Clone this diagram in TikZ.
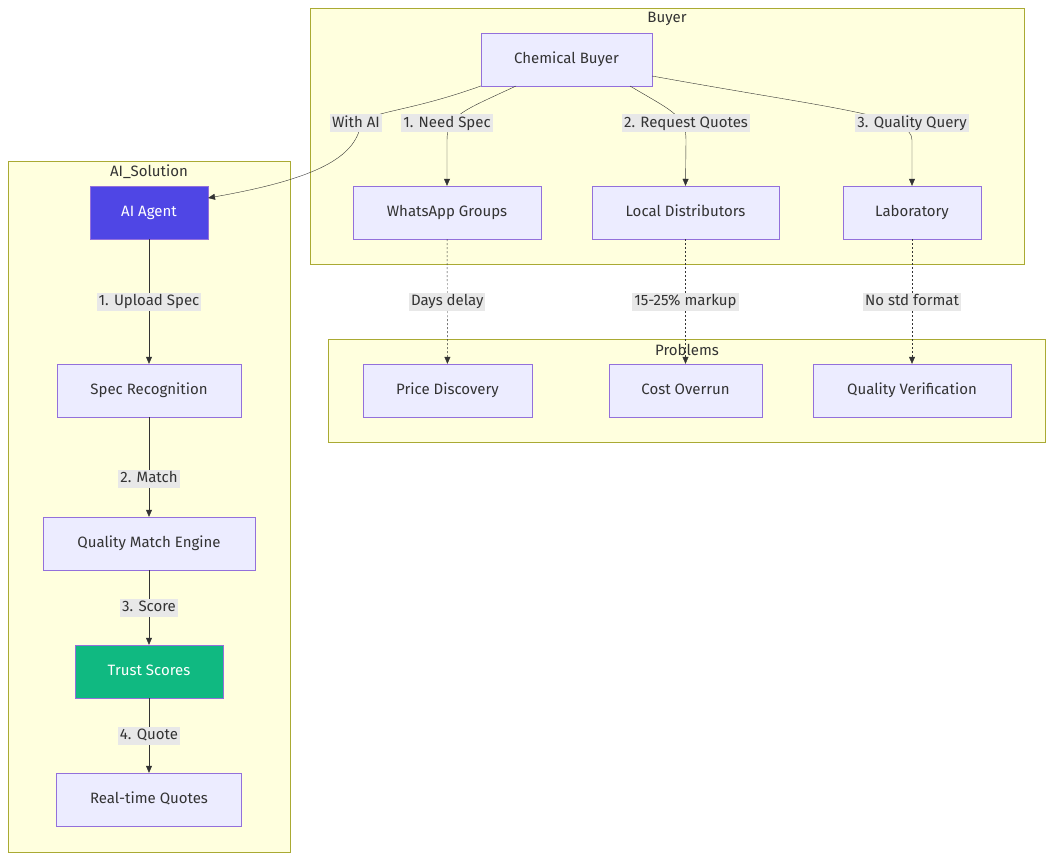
\documentclass[tikz,border=0pt]{standalone}
\usepackage{fontspec}
\setmainfont{Fira Sans}
\usetikzlibrary{arrows.meta}
\definecolor{nodefill}{HTML}{ECECFF}
\definecolor{nodeline}{HTML}{9370DB}
\definecolor{clusterfill}{HTML}{FFFFDE}
\definecolor{clusterline}{HTML}{AAAA33}
\definecolor{agentfill}{HTML}{4F46E5}
\definecolor{trustfill}{HTML}{10B981}
\definecolor{labelfill}{HTML}{E8E8E8}
\definecolor{textcol}{HTML}{333333}
\tikzset{
  box/.style={draw=nodeline, fill=nodefill, text=textcol, minimum height=53pt, inner sep=0pt,
    text height=11pt, text depth=3pt},
  cluster/.style={draw=clusterline, fill=clusterfill},
  lbl/.style={fill=labelfill, text=textcol, inner sep=2pt, text height=11pt, text depth=3pt},
  flow/.style={draw=textcol, -{Triangle[length=7pt,width=6pt]}},
  weak/.style={flow, dash pattern=on 2pt off 2pt}
}
\begin{document}
\begin{tikzpicture}[x=1pt, y=-1pt, font=\fontsize{15}{18}\selectfont]
    \useasboundingbox (0,0) rectangle (1054,860);

    % Clusters
    \draw[cluster] (310,8) rectangle (1024,264);
    \node[text=textcol] (buyerT) at (667,19) {Buyer};
    \draw[cluster] (8,161) rectangle (290,852);
    \node[text=textcol] (aiT) at (149,172) {AI\_Solution};
    \draw[cluster] (328,339) rectangle (1045,442);
    \node[text=textcol] (probT) at (687,350) {Problems};

    % Buyer nodes
    \node[box, minimum width=171pt] (buyer) at (566.5,59.5) {Chemical Buyer};
    \node[box, minimum width=188pt] (whats) at (447,212.5) {WhatsApp Groups};
    \node[box, minimum width=187pt] (dist) at (685.5,212.5) {Local Distributors};
    \node[box, minimum width=138pt] (lab) at (912,212.5) {Laboratory};

    % Problem nodes
    \node[box, minimum width=169pt] (price) at (447.5,390.5) {Price Discovery};
    \node[box, minimum width=153pt] (cost) at (685.5,390.5) {Cost Overrun};
    \node[box, minimum width=198pt] (qver) at (912,390.5) {Quality Verification};

    % AI solution nodes
    \node[box, minimum width=118pt, fill=agentfill, text=white] (agent) at (149,212.5) {AI Agent};
    \node[box, minimum width=184pt] (spec) at (149,390.5) {Spec Recognition};
    \node[box, minimum width=212pt] (match) at (149,543.5) {Quality Match Engine};
    \node[box, minimum width=148pt, fill=trustfill, text=white] (trust) at (149,671.5) {Trust Scores};
    \node[box, minimum width=185pt] (quotes) at (149,799.5) {Real-time Quotes};

    % Buyer edge ends
    \coordinate (bAI) at (buyer.south west |- 0,86);
    \coordinate (bW) at (516,86);
    \coordinate (bD) at (630,86);
    \coordinate (bL) at (652,76);
    \coordinate (aIn) at (208,198);

    % Buyer edges
    \draw[flow] (bAI) .. controls (400,115) and (365,110) .. (360,128)
        .. controls (352,160) and (310,180) .. (aIn);
    \node[lbl] (l0) at (356,123) {With AI};
    \draw[flow] (bW) .. controls (465,110) and (447,115) .. (447,140) -- (whats.north);
    \node[lbl] (l1) at (447,123) {1. Need Spec};
    \draw[flow] (bD) .. controls (670,110) and (686,115) .. (686,140) -- (dist.north);
    \node[lbl] (l2) at (686,123) {2. Request Quotes};
    \draw[flow] (bL) .. controls (840,110) and (912,115) .. (912,140) -- (lab.north);
    \node[lbl] (l3) at (912,123) {3. Quality Query};

    % Problem edges
    \draw[weak] (whats) -- node[lbl, solid] (p1) {Days delay} (price);
    \draw[weak] (dist) -- node[lbl, solid] (p2) {15-25\% markup} (cost);
    \draw[weak] (lab) -- node[lbl, solid] (p3) {No std format} (qver);

    % AI chain
    \draw[flow] (agent) -- node[lbl] (a1) {1. Upload Spec} (spec);
    \draw[flow] (spec) -- node[lbl, pos=0.62] (a2) {2. Match} (match);
    \draw[flow] (match) -- node[lbl] (a3) {3. Score} (trust);
    \draw[flow] (trust) -- node[lbl] (a4) {4. Quote} (quotes);
\end{tikzpicture}
\end{document}
